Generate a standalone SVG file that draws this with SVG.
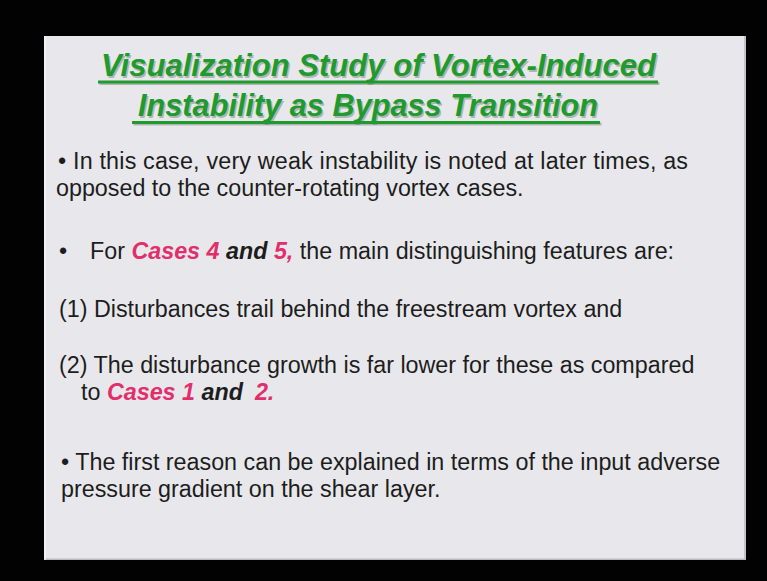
<svg xmlns="http://www.w3.org/2000/svg" width="767" height="581" viewBox="0 0 767 581">
  <style>
    .title { font-family: "Liberation Sans", Arial, sans-serif; font-size: 30.5px; font-weight: bold; font-style: italic; fill: #1f9a2e; }
    .title-shadow { font-family: "Liberation Sans", Arial, sans-serif; font-size: 30.5px; font-weight: bold; font-style: italic; fill: #6b7a6b; opacity: 0.45; }
    .body { font-family: "Liberation Sans", Arial, sans-serif; font-size: 23.3px; fill: #1d1d20; }
    .hl { fill: #e02f6b; font-weight: bold; font-style: italic; }
    .bi { font-weight: bold; font-style: italic; }
  </style>

  <!-- backdrop -->
  <rect x="0" y="0" width="767" height="581" fill="#020202"/>

  <!-- slide panel -->
  <g id="slide">
    <rect x="44" y="36" width="702" height="524" fill="#e8e8ec"/>
    <line x1="745" y1="36" x2="745" y2="560" stroke="#b9b9bd" stroke-width="1.5"/>
    <line x1="44" y1="559.3" x2="746" y2="559.3" stroke="#b9b9bd" stroke-width="1.5"/>
    <line x1="45" y1="36" x2="45" y2="560" stroke="#f6f6f8" stroke-width="1.5"/>
  </g>

  <!-- heading, two underlined lines -->
  <g id="heading">
    <text class="title-shadow" x="102.5" y="77.5" textLength="555" lengthAdjust="spacingAndGlyphs">Visualization Study of Vortex-Induced</text>
    <rect x="99.5" y="82" width="560" height="3" fill="#6b7a6b" opacity="0.45"/>
    <text class="title" x="101" y="76" textLength="555" lengthAdjust="spacingAndGlyphs">Visualization Study of Vortex-Induced</text>
    <rect x="98" y="80.5" width="560" height="3" fill="#1f9a2e"/>

    <text class="title-shadow" x="139.5" y="117.5" textLength="460" lengthAdjust="spacingAndGlyphs">Instability as Bypass Transition</text>
    <rect x="133.5" y="122.5" width="468" height="3" fill="#6b7a6b" opacity="0.45"/>
    <text class="title" x="138" y="116" textLength="460" lengthAdjust="spacingAndGlyphs">Instability as Bypass Transition</text>
    <rect x="132" y="121" width="468" height="3" fill="#1f9a2e"/>
  </g>

  <!-- body paragraphs -->
  <g id="point-weak-instability">
    <text class="body" x="58" y="169" textLength="630" lengthAdjust="spacing">• In this case, very weak instability is noted at later times, as</text>
    <text class="body" x="56" y="196">opposed to the counter-rotating vortex cases.</text>
  </g>

  <g id="point-cases-4-5">
    <text class="body" x="59" y="259">•</text>
    <text class="body" x="90" y="259">For <tspan class="hl">Cases 4</tspan> <tspan class="bi">and</tspan> <tspan class="hl">5,</tspan> the main distinguishing features are:</text>
  </g>

  <g id="feature-1">
    <text class="body" x="59" y="317">(1) Disturbances trail behind the freestream vortex and</text>
  </g>

  <g id="feature-2">
    <text class="body" x="59" y="373">(2) The disturbance growth is far lower for these as compared</text>
    <text class="body" x="81" y="400">to <tspan class="hl">Cases 1</tspan> <tspan class="bi">and</tspan><tspan class="hl" dx="12">2.</tspan></text>
  </g>

  <g id="point-first-reason">
    <text class="body" x="61" y="470">• The first reason can be explained in terms of the input adverse</text>
    <text class="body" x="61" y="497">pressure gradient on the shear layer.</text>
  </g>
</svg>
